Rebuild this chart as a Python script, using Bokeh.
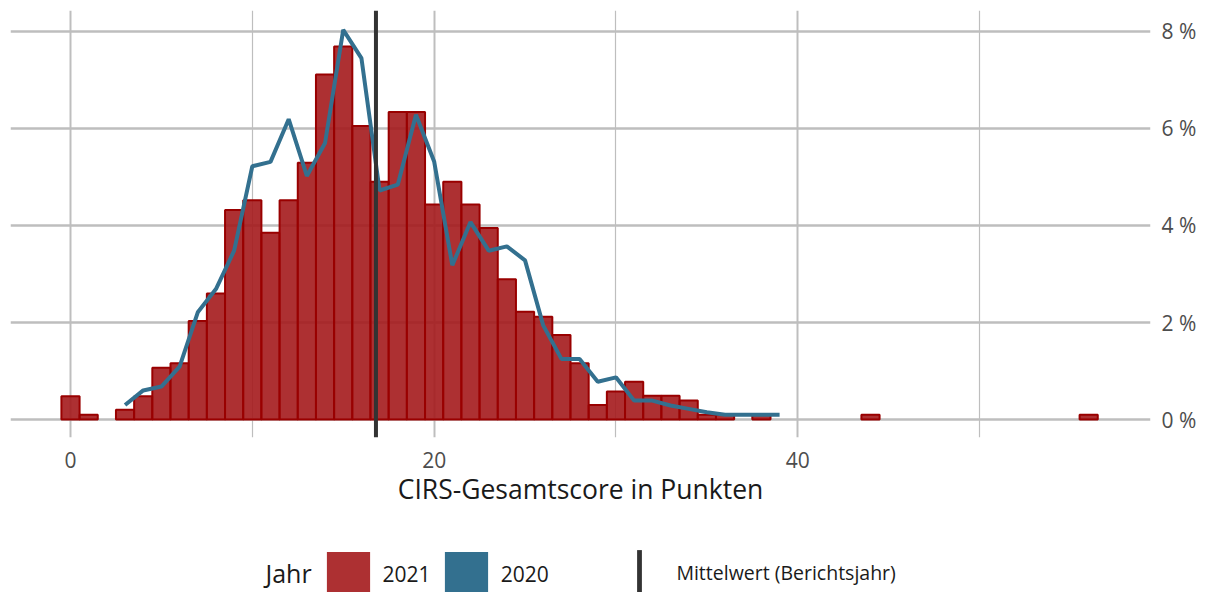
from bokeh.plotting import figure
from bokeh.layouts import column
from bokeh.models import (Range1d, FixedTicker, CustomJSTickFormatter, Span, Legend,
                          LegendItem, Label, ColumnDataSource)
from bokeh.embed import file_html
from bokeh.resources import INLINE

# ---- data ----
scores_2021 = [0, 1, 3, 4, 5, 6, 7, 8, 9, 10, 11, 12, 13, 14, 15, 16, 17, 18, 19, 20,
               21, 22, 23, 24, 25, 26, 27, 28, 29, 30, 31, 32, 33, 34, 35, 36, 38, 44, 56]
pct_2021 = [0.48, 0.10, 0.20, 0.48, 1.07, 1.16, 2.03, 2.60, 4.32, 4.52, 3.85, 4.52, 5.29,
            7.11, 7.69, 6.05, 4.90, 6.34, 6.34, 4.43, 4.90, 4.43, 3.95, 2.89, 2.22, 2.12,
            1.74, 1.16, 0.30, 0.58, 0.78, 0.49, 0.49, 0.39, 0.10, 0.10, 0.10, 0.10, 0.10]

scores_2020 = list(range(3, 40))
pct_2020 = [0.30, 0.60, 0.68, 1.09, 2.21, 2.69, 3.48, 5.22, 5.31, 6.19, 5.02, 5.70, 8.03,
            7.45, 4.72, 4.84, 6.28, 5.32, 3.18, 4.07, 3.48, 3.57, 3.28, 1.94, 1.25, 1.25,
            0.78, 0.87, 0.39, 0.39, 0.29, 0.22, 0.15, 0.10, 0.10, 0.10, 0.10]

mean_2021 = 16.8

x_ticks = [0, 20, 40]
x_minor = [10, 30, 50]
y_ticks = [0, 2, 4, 6, 8]

legend_years = ["2021", "2020"]
x_title = "CIRS-Gesamtscore in Punkten"
legend_title = "Jahr"
mean_label = "Mittelwert (Berichtsjahr)"

# ---- styles ----
FONT = "Open Sans"
BAR_FILL = "#A4191C"
BAR_LINE = "#990000"
LINE_2020 = "#33708F"
MEAN_COL = "#333333"
GRID = "#BEBEBE"
TXT = "#1A1A1A"

p = figure(frame_width=1140, frame_height=427,
           min_border_left=10, min_border_top=10, min_border_right=50, min_border_bottom=90,
           x_range=Range1d(-3.3, 59.4), y_range=Range1d(-0.37, 8.43),
           y_axis_location="right", output_backend="svg", toolbar_location=None)
p.outline_line_color = None
p.background_fill_color = "white"
p.border_fill_color = "white"

src21 = ColumnDataSource(dict(x=scores_2021, top=pct_2021))
p.vbar(x="x", top="top", bottom=0, width=1, source=src21,
       fill_color=BAR_FILL, fill_alpha=0.9, line_color=BAR_LINE, line_width=2)

src20 = ColumnDataSource(dict(x=scores_2020, y=pct_2020))
p.line(x="x", y="y", source=src20, line_color=LINE_2020, line_width=4)

p.add_layout(Span(location=mean_2021, dimension="height", line_color=MEAN_COL, line_width=4))

# axes
p.xaxis.ticker = FixedTicker(ticks=x_ticks, minor_ticks=x_minor)
p.yaxis.ticker = FixedTicker(ticks=y_ticks)
p.yaxis.formatter = CustomJSTickFormatter(code="return tick + ' %'")
for ax in (p.xaxis, p.yaxis):
    ax.axis_line_color = None
    ax.major_tick_line_color = None
    ax.minor_tick_line_color = None
    ax.major_label_text_font = FONT
    ax.major_label_text_font_size = "21px"
    ax.major_label_text_color = "#4D4D4D"
p.xaxis.major_label_standoff = 8
p.yaxis.major_label_standoff = 5
p.xaxis.axis_label = x_title
p.xaxis.axis_label_text_font = FONT
p.xaxis.axis_label_text_font_size = "26.5px"
p.xaxis.axis_label_text_font_style = "normal"
p.xaxis.axis_label_text_color = TXT
p.xaxis.axis_label_standoff = 0

p.xgrid.grid_line_color = GRID
p.xgrid.grid_line_width = 2
p.xgrid.minor_grid_line_color = GRID
p.xgrid.minor_grid_line_width = 1.2
p.ygrid.grid_line_color = GRID
p.ygrid.grid_line_width = 2.5

# ---- legend strip ----
lg = figure(width=1200, height=65, min_border=0, x_range=Range1d(0, 1), y_range=Range1d(0, 1),
            output_backend="svg", toolbar_location=None)
lg.axis.visible = False
lg.grid.visible = False
lg.outline_line_color = None
lg.background_fill_color = "white"
lg.border_fill_color = "white"

# proxy glyphs kept outside the visible range; they only supply legend keys
r21 = lg.rect(x=[5], y=[5], width=1, height=1, fill_color=BAR_FILL, fill_alpha=0.9, line_color=None)
r20 = lg.rect(x=[5], y=[5], width=1, height=1, fill_color=LINE_2020, line_color=None)
rm = lg.rect(x=[5], y=[5], width=1, height=1, fill_color=MEAN_COL, line_color=None)

leg1 = Legend(items=[LegendItem(label=legend_years[0], renderers=[r21]),
                     LegendItem(label=legend_years[1], renderers=[r20])],
              location=(310.6, -10.4), orientation="horizontal",
              glyph_width=54, glyph_height=56, label_standoff=8, label_width=48, spacing=8,
              padding=0, margin=0, border_line_color=None, background_fill_alpha=0,
              label_text_font=FONT, label_text_font_size="21px", label_text_color=TXT)
leg2 = Legend(items=[LegendItem(label=mean_label, renderers=[rm])],
              location=(626.4, -8.4), orientation="horizontal",
              glyph_width=6, glyph_height=56, label_standoff=34,
              padding=0, margin=0, border_line_color=None, background_fill_alpha=0,
              label_text_font=FONT, label_text_font_size="19.5px", label_text_color=TXT)
lg.add_layout(leg1)
lg.add_layout(leg2)
lg.add_layout(Label(x=255, y=20, x_units="screen", y_units="screen", text=legend_title,
                    text_font=FONT, text_font_size="25px", text_baseline="middle",
                    text_color=TXT))

layout = column(p, lg, spacing=0)
open("out.html", "w").write(file_html(layout, INLINE))
